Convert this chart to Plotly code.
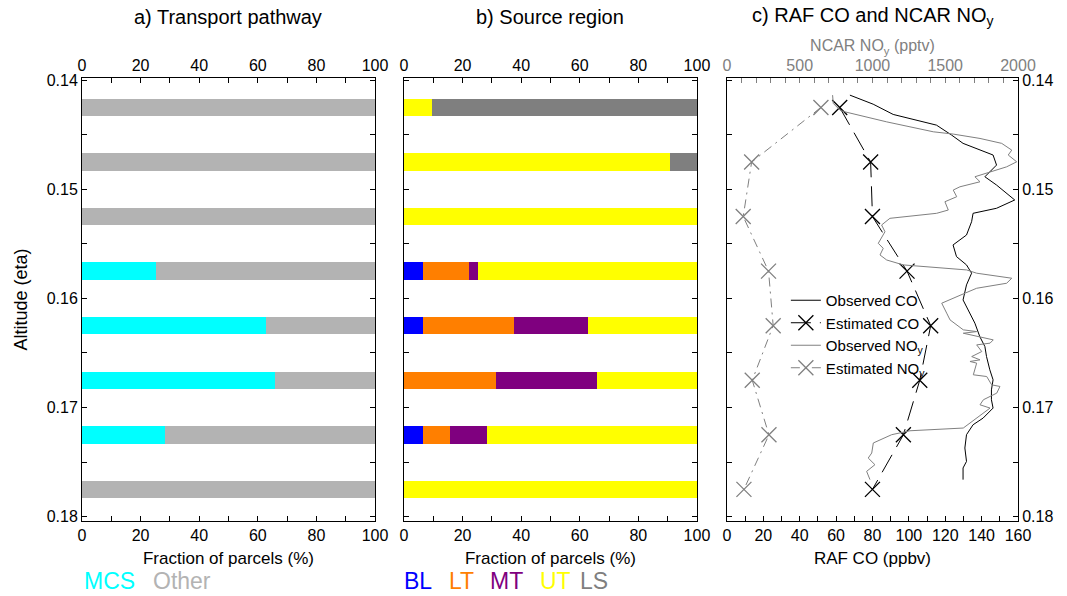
import plotly.graph_objects as go

# ---- altitude levels (eta) of the parcel bins ----
eta_levels = [0.1425, 0.1475, 0.1525, 0.1575, 0.1625, 0.1675, 0.1725, 0.1775]

# ---- a) transport pathway (% of parcels) ----
mcs = [0, 0, 0, 25.2, 62.7, 65.9, 28.4, 0]
other = [100, 100, 100, 74.8, 37.3, 34.1, 71.6, 100]

# ---- b) source region (% of parcels) ----
bl = [0, 0, 0, 6.5, 6.5, 0, 6.5, 0]
lt = [0, 0, 0, 15.7, 31.0, 31.4, 9.2, 0]
mt = [0, 0, 0, 3.0, 25.2, 34.4, 12.6, 0]
ut = [9.5, 90.7, 100, 74.8, 37.3, 34.2, 71.7, 100]
ls = [90.5, 9.3, 0, 0, 0, 0, 0, 0]

# ---- c) estimated CO (ppbv) and NOy (pptv) at each level ----
est_co = [62, 79, 80, 99, 112, 106, 97, 80]
est_noy = [646, 170, 112, 286, 318, 174, 289, 117]

# ---- c) observed RAF CO profile ----
obs_co_eta = [0.14137, 0.14220, 0.14314, 0.14412, 0.14503, 0.14579, 0.14686, 0.14778,
              0.14885, 0.14961, 0.15098, 0.15174, 0.15220, 0.15297, 0.15419, 0.15510,
              0.15617, 0.15693, 0.15769, 0.15876, 0.16014, 0.16105, 0.16227, 0.16350,
              0.16441, 0.16533, 0.16654, 0.16746, 0.16838, 0.16929, 0.17005, 0.17097,
              0.17158, 0.17249, 0.17371, 0.17494, 0.17554, 0.17661]
obs_co = [67.6, 80.4, 91.4, 115.2, 123.5, 129.8, 146.3, 148.2,
          141.8, 148.2, 158.2, 148.2, 135.3, 134.5, 131.7, 124.3,
          126.2, 131.7, 134.5, 131.7, 129.8, 132.6, 136.3, 139.0,
          141.8, 142.7, 144.5, 146.3, 145.4, 145.4, 146.3, 140.8,
          135.3, 131.7, 130.8, 131.7, 129.8, 129.8]

# ---- c) observed NCAR NOy profile ----
obs_noy_eta = [0.14137, 0.14213, 0.14275, 0.14290, 0.14382, 0.14473, 0.14494, 0.14534,
               0.14579, 0.14641, 0.14686, 0.14748, 0.14794, 0.14854, 0.14885, 0.14931,
               0.14977, 0.15007, 0.15068, 0.15114, 0.15190, 0.15220, 0.15266, 0.15327,
               0.15389, 0.15495, 0.15541, 0.15602, 0.15648, 0.15693, 0.15739, 0.15769,
               0.15815, 0.15861, 0.15907, 0.15952, 0.15998, 0.16044, 0.16135, 0.16197,
               0.16288, 0.16304, 0.16319, 0.16380, 0.16410, 0.16426, 0.16487, 0.16533,
               0.16563, 0.16578, 0.16593, 0.16700, 0.16716, 0.16792, 0.16807, 0.16868,
               0.16929, 0.16975, 0.17005, 0.17097, 0.17188, 0.17213, 0.17249, 0.17325,
               0.17417, 0.17463, 0.17524, 0.17585, 0.17661]
obs_noy = [726, 731, 777, 811, 1098, 1418, 1555, 1739,
           1888, 1957, 1933, 1991, 1922, 1785, 1704, 1739,
           1601, 1555, 1579, 1498, 1521, 1441, 1120, 1063,
           1086, 1040, 1074, 1052, 1098, 1212, 1647, 1716,
           1957, 1922, 1716, 1636, 1555, 1476, 1510, 1533,
           1624, 1716, 1624, 1830, 1808, 1716, 1751, 1682,
           1739, 1670, 1716, 1693, 1785, 1819, 1876, 1854,
           1762, 1739, 1808, 1716, 1624, 1258, 1132, 1006,
           995, 971, 1017, 960, 983]

FONT = "Liberation Sans, Arial, Helvetica, sans-serif"
BAR_W = 0.0016
ETA_RANGE = [0.1804, 0.1398]

fig = go.Figure()

# panel a bars
for vals, col in [(mcs, "#00FFFF"), (other, "#B3B3B3")]:
    fig.add_trace(go.Bar(x=vals, y=eta_levels, orientation="h", width=BAR_W,
                         marker=dict(color=col, line=dict(width=0)),
                         xaxis="x", yaxis="y", showlegend=False))

# panel b bars
for vals, col in [(bl, "#0000FF"), (lt, "#FF7F00"), (mt, "#7F007F"),
                  (ut, "#FFFF00"), (ls, "#7F7F7F")]:
    fig.add_trace(go.Bar(x=vals, y=eta_levels, orientation="h", width=BAR_W,
                         marker=dict(color=col, line=dict(width=0)),
                         xaxis="x2", yaxis="y2", showlegend=False))

# invisible helpers so the top axes of panels a and b get drawn
fig.add_trace(go.Scatter(x=[0, 100], y=[0.15, 0.15], mode="markers", opacity=0,
                         hoverinfo="skip", showlegend=False, xaxis="x4", yaxis="y"))
fig.add_trace(go.Scatter(x=[0, 100], y=[0.15, 0.15], mode="markers", opacity=0,
                         hoverinfo="skip", showlegend=False, xaxis="x5", yaxis="y2"))

# panel c profiles
fig.add_trace(go.Scatter(x=obs_co, y=obs_co_eta, mode="lines", name="Observed CO",
                         line=dict(color="black", width=1),
                         xaxis="x3", yaxis="y3"))
fig.add_trace(go.Scatter(x=est_co, y=eta_levels, mode="lines+markers", name="Estimated CO",
                         line=dict(color="black", width=1, dash="20px,9px"),
                         marker=dict(symbol="x-thin-open", size=15, color="black",
                                     line=dict(width=1.3, color="black")),
                         xaxis="x3", yaxis="y3"))
fig.add_trace(go.Scatter(x=obs_noy, y=obs_noy_eta, mode="lines", name="Observed NO<sub>y</sub>",
                         line=dict(color="#808080", width=1),
                         xaxis="x6", yaxis="y3"))
fig.add_trace(go.Scatter(x=est_noy, y=eta_levels, mode="lines+markers", name="Estimated NO<sub>y</sub>",
                         line=dict(color="#808080", width=1, dash="9px,5px,2px,5px"),
                         marker=dict(symbol="x-thin-open", size=15, color="#808080",
                                     line=dict(width=1.3, color="#808080")),
                         xaxis="x6", yaxis="y3"))

tickfont = dict(family=FONT, size=16, color="black")

def bottom_x(domain, rng, dtick, minor_dtick, title):
    return dict(domain=domain, range=rng, dtick=dtick, tick0=0, ticks="inside", ticklen=5,
                tickcolor="black", showline=True, linecolor="black", linewidth=1,
                showgrid=False, zeroline=False, tickfont=tickfont,
                minor=dict(dtick=minor_dtick, ticks="inside", ticklen=5, tickcolor="black"),
                title=dict(text=title, font=dict(family=FONT, size=17, color="black"),
                           standoff=8),
                fixedrange=True)

def top_x(over, anchor, rng, dtick, minor_dtick, color="black", title=None):
    d = dict(overlaying=over, anchor=anchor, side="top", range=rng, dtick=dtick, tick0=0,
             ticks="inside", ticklen=5, tickcolor=color, showline=True, linecolor="black",
             linewidth=1, showgrid=False, zeroline=False,
             tickfont=dict(family=FONT, size=16, color=color),
             minor=dict(dtick=minor_dtick, ticks="inside", ticklen=5, tickcolor=color),
             fixedrange=True)
    if title:
        d["title"] = dict(text=title, font=dict(family=FONT, size=16, color=color), standoff=0)
    return d

def eta_y(anchor, labels, side="left", title=None):
    d = dict(anchor=anchor, range=ETA_RANGE, dtick=0.01, tick0=0.14, tickformat=".2f",
             ticks="inside", ticklen=5, tickcolor="black", showline=True, linecolor="black",
             linewidth=1, mirror="ticks", showgrid=False, zeroline=False,
             showticklabels=labels, side=side, tickfont=tickfont,
             minor=dict(dtick=0.005, ticks="inside", ticklen=5, tickcolor="black"),
             fixedrange=True)
    if title:
        d["title"] = dict(text=title, font=dict(family=FONT, size=18, color="black"), standoff=14)
    return d

fig.update_layout(
    width=1067, height=596,
    margin=dict(l=82, r=49, t=78, b=75),
    paper_bgcolor="white", plot_bgcolor="white",
    barmode="stack", bargap=0,
    font=dict(family=FONT, size=16, color="black"),
    xaxis=bottom_x([0, 0.313], [0, 100], 20, 10, "Fraction of parcels (%)"),
    xaxis2=bottom_x([0.344, 0.657], [0, 100], 20, 10, "Fraction of parcels (%)"),
    xaxis3=bottom_x([0.689, 1.0], [0, 160], 20, 10, "RAF CO (ppbv)"),
    xaxis4=top_x("x", "y", [0, 100], 20, 10),
    xaxis5=top_x("x2", "y2", [0, 100], 20, 10),
    xaxis6=top_x("x3", "y3", [0, 2000], 500, 100, color="#808080",
                 title="NCAR NO<sub>y</sub> (pptv)"),
    yaxis=eta_y("x", True, title="Altitude (eta)"),
    yaxis2=eta_y("x2", False),
    yaxis3=eta_y("x3", True, side="right"),
    legend=dict(x=0.752, y=0.535, xanchor="left", yanchor="top", traceorder="normal",
                bgcolor="rgba(0,0,0,0)", borderwidth=0, itemwidth=30,
                tracegroupgap=0, font=dict(family=FONT, size=15, color="black")),
    showlegend=True,
)

# panel titles
for xc, txt in [(0.156, "a) Transport pathway"), (0.5, "b) Source region"),
                (0.845, "c) RAF CO and NCAR NO<sub>y</sub>")]:
    fig.add_annotation(x=xc, y=1.138, xref="paper", yref="paper", text=txt, showarrow=False,
                       xanchor="center", yanchor="middle",
                       font=dict(family=FONT, size=20, color="black"))

# coloured category keys below panels a and b
keys = [(0.0, "MCS", "#00FFFF"), (0.0737, "Other", "#B3B3B3"),
        (0.342, "BL", "#0000FF"), (0.390, "LT", "#FF7F00"), (0.434, "MT", "#7F007F"),
        (0.487, "UT", "#FFFF00"), (0.530, "LS", "#7F7F7F")]
for xk, txt, col in keys:
    fig.add_annotation(x=xk, y=-0.135, xref="paper", yref="paper", text=txt, showarrow=False,
                       xanchor="left", yanchor="middle",
                       font=dict(family=FONT, size=23, color=col))

fig.write_html("out.html")
